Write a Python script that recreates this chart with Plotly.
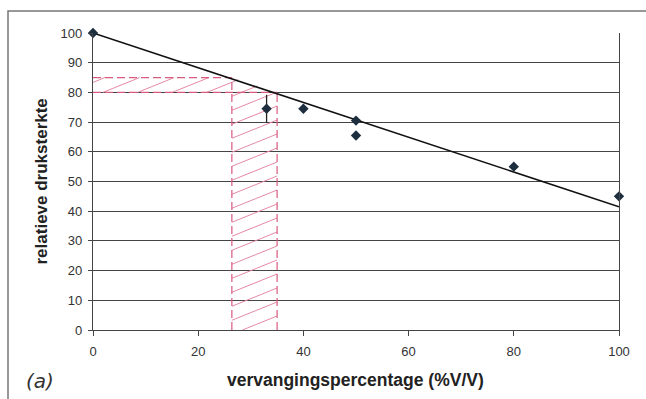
import math
import plotly.graph_objects as go

# Data
x_vals = [0, 33, 40, 50, 50, 80, 100]
y_vals = [100, 74.5, 74.5, 70.5, 65.5, 55, 45]
y_err = [0, 4.7, 0, 0, 0, 0, 0]
trend_x = [0, 100]
trend_y = [100, 41.5]
x_ticks = [0, 20, 40, 60, 80, 100]
y_ticks = [0, 10, 20, 30, 40, 50, 60, 70, 80, 90, 100]
# red hatched zone bounds
zone_x_lo, zone_x_hi = 26.4, 35
zone_y_lo, zone_y_hi = 80, 85

RED = "#d85a7e"
HATCH = "#e58aa6"

# plot-area geometry (pixels)
W, H = 646, 399
ML, MR, MT, MB = 93, 27, 33, 69
PW, PH = W - ML - MR, H - MT - MB
px_per_x = PW / 100.0
px_per_y = PH / 100.0

fig = go.Figure()

# ---- hatch lines clipped to the L-shaped zone ----
def clip_line(m, c, poly):
    pts = []
    n = len(poly)
    for i in range(n):
        (x1, y1), (x2, y2) = poly[i], poly[(i + 1) % n]
        f1 = y1 - m * x1 - c
        f2 = y2 - m * x2 - c
        if f1 == f2:
            continue
        t = f1 / (f1 - f2)
        if 0 <= t <= 1:
            pts.append((x1 + t * (x2 - x1), y1 + t * (y2 - y1)))
    if len(pts) < 2:
        return None
    pts.sort()
    return pts[0], pts[-1]

regions = [
    [(0, zone_y_lo), (zone_x_lo, zone_y_lo), (zone_x_lo, zone_y_hi), (0, zone_y_hi)],
    [(zone_x_lo, 0), (zone_x_hi, 0), (zone_x_hi, zone_y_lo), (zone_x_lo, zone_y_hi)],
]
slope = math.tan(math.radians(22)) * px_per_x / px_per_y
step = 14 / px_per_y
hx, hy = [], []
c = -slope * zone_x_hi - step
while c < zone_y_hi + step:
    for poly in regions:
        seg = clip_line(slope, c, poly)
        if seg:
            (a, b), (d, e) = seg
            hx += [a, d, None]
            hy += [b, e, None]
    c += step
fig.add_trace(go.Scatter(x=hx, y=hy, mode="lines",
                         line=dict(color=HATCH, width=1),
                         hoverinfo="skip", showlegend=False))

# dashed boundaries
dash_segments = [
    ([0, zone_x_lo], [zone_y_hi, zone_y_hi]),
    ([0, zone_x_hi], [zone_y_lo, zone_y_lo]),
    ([zone_x_lo, zone_x_lo], [0, zone_y_hi]),
    ([zone_x_hi, zone_x_hi], [0, zone_y_lo]),
]
for sx, sy in dash_segments:
    fig.add_trace(go.Scatter(x=sx, y=sy, mode="lines",
                             line=dict(color=RED, width=1.2, dash="8px,4px"),
                             hoverinfo="skip", showlegend=False))

# trend line
fig.add_trace(go.Scatter(x=trend_x, y=trend_y, mode="lines",
                         line=dict(color="#111111", width=1.6),
                         showlegend=False, cliponaxis=False))
# data points
fig.add_trace(go.Scatter(x=x_vals, y=y_vals, mode="markers",
                         marker=dict(symbol="diamond", size=8, color="#1d2f3f"),
                         error_y=dict(type="data", array=y_err, width=0,
                                      color="#222222", thickness=1.3),
                         showlegend=False, cliponaxis=False))

fig.update_layout(
    width=W, height=H,
    margin=dict(l=ML, r=MR, t=MT, b=MB),
    paper_bgcolor="white", plot_bgcolor="white",
    font=dict(family="Liberation Sans, Arial, sans-serif", color="#333333", size=13),
    xaxis=dict(range=[0, 100], tickvals=x_ticks, showgrid=False, zeroline=False,
               showline=True, linecolor="#444444", linewidth=1.2,
               ticks="outside", ticklen=5, tickcolor="#444444",
               ticklabelstandoff=4,
               tickfont=dict(size=13, color="#333333")),
    yaxis=dict(range=[0, 100], tickvals=y_ticks, showgrid=True, gridcolor="#444444",
               gridwidth=1, zeroline=False, showline=True, linecolor="#444444",
               linewidth=1.2, mirror=True,
               ticks="outside", ticklen=4, tickcolor="#444444",
               ticklabelstandoff=3,
               tickfont=dict(size=13, color="#333333")),
    shapes=[dict(type="rect", xref="paper", yref="paper",
                 x0=(8 - ML) / PW, x1=1.07,
                 y0=-0.26, y1=(H - MB - 11) / PH,
                 line=dict(color="#777777", width=1.5), fillcolor="rgba(0,0,0,0)",
                 layer="below")],
    annotations=[
        dict(text="<b>vervangingspercentage (%V/V)</b>", xref="paper", yref="paper",
             x=(355 - ML) / PW, y=(H - MB - 380) / PH, xanchor="center", yanchor="middle",
             showarrow=False, font=dict(size=17.5, color="#222222")),
        dict(text="<b>relatieve druksterkte</b>", xref="paper", yref="paper",
             x=(41 - ML) / PW, y=0.5, xanchor="center", yanchor="middle",
             textangle=-90, showarrow=False,
             font=dict(size=17, color="#222222")),
        dict(text="<i>(a)</i>", xref="paper", yref="paper",
             x=(40 - ML) / PW, y=(H - MB - 381) / PH, xanchor="center", yanchor="middle",
             showarrow=False,
             font=dict(size=20, color="#333333", family="DejaVu Sans, sans-serif")),
    ],
)

fig.write_html("out.html", config={"displayModeBar": False},
               post_script="document.body.style.margin='0';document.body.style.overflow='hidden';")
